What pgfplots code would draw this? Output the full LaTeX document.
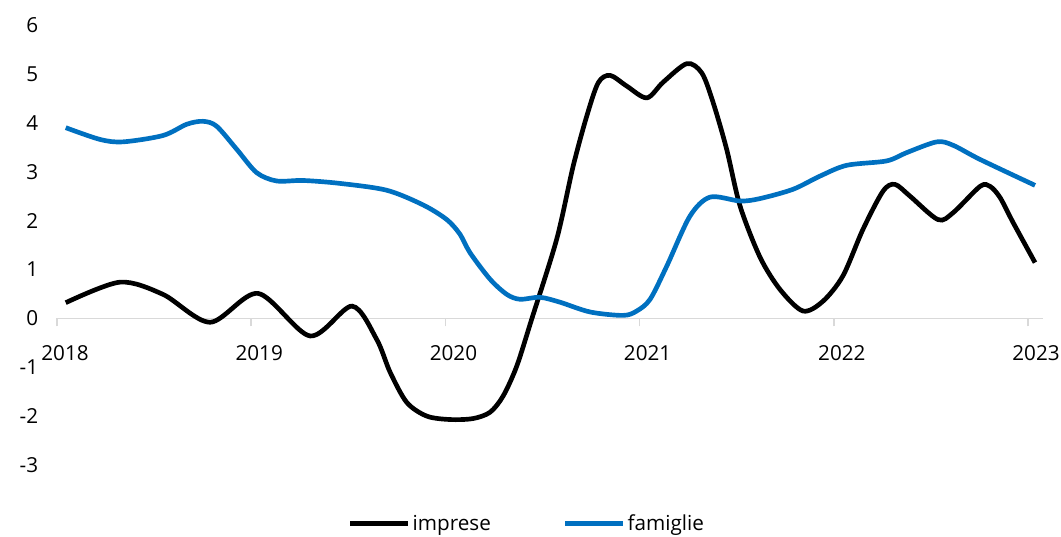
\documentclass[border=0pt]{standalone}
\usepackage{pgfplots}
\pgfplotsset{compat=1.18}
\usepackage{fontspec}
\setmainfont{Open Sans}

\definecolor{famblue}{HTML}{0070C0}
\definecolor{axisgray}{HTML}{D9D9D9}

% Black line: imprese; blue line: famiglie (x in fractional years)
\pgfplotstableread{
x        y
2018.045  0.32
2018.324  0.74
2018.546  0.49
2018.788 -0.08
2019.035  0.51
2019.303 -0.36
2019.519  0.25
2019.646 -0.43
2019.715 -1.10
2019.801 -1.72
2019.904 -2.00
2020.024 -2.07
2020.142 -2.05
2020.230 -1.92
2020.297 -1.59
2020.367 -0.98
2020.444 -0.02
2020.573  1.62
2020.657  3.10
2020.728  4.14
2020.787  4.82
2020.848  4.97
2020.934  4.75
2021.037  4.51
2021.121  4.83
2021.243  5.21
2021.320  5.02
2021.378  4.42
2021.448  3.46
2021.517  2.30
2021.620  1.25
2021.723  0.59
2021.841  0.15
2021.944  0.35
2022.047  0.87
2022.150  1.82
2022.253  2.60
2022.315  2.74
2022.392  2.50
2022.536  2.02
2022.614  2.16
2022.753  2.70
2022.804  2.70
2022.856  2.47
2022.923  1.96
2023.036  1.14
}\impresetab

\pgfplotstableread{
x        y
2018.045  3.90
2018.221  3.66
2018.340  3.61
2018.546  3.74
2018.668  3.97
2018.752  4.03
2018.822  3.93
2018.925  3.46
2019.028  2.98
2019.131  2.81
2019.267  2.82
2019.457  2.76
2019.698  2.62
2019.885  2.32
2020.007  2.02
2020.075  1.72
2020.127  1.34
2020.230  0.80
2020.316  0.49
2020.384  0.39
2020.487  0.43
2020.590  0.33
2020.745  0.13
2020.915  0.06
2020.985  0.15
2021.054  0.39
2021.140  1.07
2021.259  2.09
2021.363  2.48
2021.517  2.40
2021.620  2.45
2021.790  2.64
2021.929  2.91
2022.066  3.13
2022.272  3.22
2022.375  3.39
2022.530  3.61
2022.614  3.54
2022.753  3.25
2023.036  2.72
}\famigliatab

\begin{document}
\begin{tikzpicture}
\useasboundingbox (-42.75pt,-53.25pt) rectangle (753pt,348.75pt);
\begin{axis}[
  at={(0,0)}, anchor=south west,
  scale only axis,
  width=739.5pt, height=330pt,
  xmin=2018, xmax=2023.077,
  ymin=-3, ymax=6,
  axis x line=middle,
  axis y line=left,
  hide obscured x ticks=false,
  hide obscured y ticks=false,
  x axis line style={-, draw=axisgray, line width=1.1pt},
  y axis line style={draw=none},
  xtick={2018,2019,2020,2021,2022,2023},
  xticklabels={2018,2019,2020,2021,2022,2023},
  ytick={-3,-2,...,6},
  xtick align=outside,
  major tick length=6pt,
  xtick style={draw=axisgray, line width=1.1pt},
  ytick style={draw=none},
  /pgf/number format/assume math mode=true,
  tick label style={font=\fontsize{15.5}{18}\selectfont, text=black},
  xticklabel style={anchor=north, inner sep=0pt, xshift=6pt, yshift=-14pt},
  yticklabel style={anchor=east, inner sep=0pt, xshift=-11pt},
  legend columns=2,
  legend style={
    at={(axis description cs:0.477,-0.133)}, anchor=center,
    draw=none, fill=none,
    font=\fontsize{15.5}{18}\selectfont,
    /tikz/every even column/.append style={column sep=52pt},
  },
  legend image code/.code={%
    \draw[#1] (0pt,0pt) -- (37pt,0pt);
    \path (0pt,0pt) -- (43pt,0pt);},
  clip=false,
]
\addplot[black, line width=3.5pt, smooth] table[x=x, y=y] {\impresetab};
\addlegendentry{imprese}
\addplot[famblue, line width=3.5pt, smooth] table[x=x, y=y] {\famigliatab};
\addlegendentry{famiglie}
\end{axis}
\end{tikzpicture}
\end{document}
